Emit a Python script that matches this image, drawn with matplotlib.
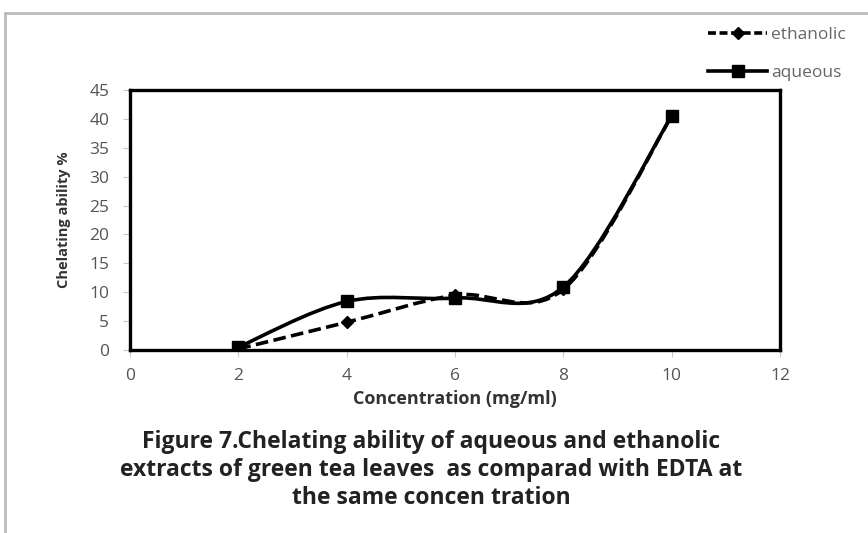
import matplotlib.pyplot as plt
from matplotlib.path import Path
from matplotlib.patches import PathPatch
from matplotlib.lines import Line2D

plt.rcParams['font.family'] = ['Open Sans', 'DejaVu Sans']

# concentration (mg/ml) and chelating ability (%)
conc = [2, 4, 6, 8, 10]
ethanolic = [0.2, 4.8, 9.5, 10.5, 40.5]
aqueous = [0.5, 8.4, 9.0, 10.9, 40.5]

x_ticks = [0, 2, 4, 6, 8, 10, 12]
y_ticks = [0, 5, 10, 15, 20, 25, 30, 35, 40, 45]

caption = ("Figure 7.Chelating ability of aqueous and ethanolic\n"
           "extracts of green tea leaves  as comparad with EDTA at\n"
           "the same concen tration")


def smooth_path(xs, ys):
    # excel style smoothed line: bezier segments with catmull-rom control points
    pts = list(zip(xs, ys))
    n = len(pts)
    verts = [pts[0]]
    codes = [Path.MOVETO]
    for i in range(n - 1):
        p0 = pts[i - 1] if i > 0 else pts[i]
        p1 = pts[i]
        p2 = pts[i + 1]
        p3 = pts[i + 2] if i + 2 < n else pts[i + 1]
        c1 = (p1[0] + (p2[0] - p0[0]) / 6, p1[1] + (p2[1] - p0[1]) / 6)
        c2 = (p2[0] - (p3[0] - p1[0]) / 6, p2[1] - (p3[1] - p1[1]) / 6)
        verts += [c1, c2, p2]
        codes += [Path.CURVE4] * 3
    return Path(verts, codes)


fig = plt.figure(figsize=(8.68, 5.33), dpi=100)
ax = fig.add_axes([0.1498, 0.3433, 0.7488, 0.4878])

# smoothed lines
ax.add_patch(PathPatch(smooth_path(conc, ethanolic), fill=False, ec='black',
                       lw=2.6, ls=(0, (3.5, 1.5))))
ax.add_patch(PathPatch(smooth_path(conc, aqueous), fill=False, ec='black', lw=2.6))
ax.plot(conc, ethanolic, ls='none', marker='D', ms=6.5, color='black')
ax.plot(conc, aqueous, ls='none', marker='s', ms=8.5, color='black')

ax.set_xlim(0, 12)
ax.set_ylim(0, 45)
ax.set_xticks(x_ticks)
ax.set_yticks(y_ticks)
ax.tick_params(labelsize=12.5, labelcolor='#555555', color='#c8c8c8',
               direction='out', length=5)
ax.tick_params(axis='x', pad=8)
ax.tick_params(axis='y', pad=10)
for s in ax.spines.values():
    s.set_linewidth(2.4)
    s.set_color('black')

ax.set_xlabel('Concentration (mg/ml)', fontsize=13, fontweight='bold',
              labelpad=4, color='#333333')
ax.set_ylabel('Chelating ability %', fontsize=10.5, fontweight='bold',
              labelpad=13, color='#333333')

# legend up in the corner
handles = [
    Line2D([], [], color='black', lw=2.6, ls=(0, (2.2, 1.0)), marker='D', ms=6.5),
    Line2D([], [], color='black', lw=2.6, marker='s', ms=8.5),
]
leg = fig.legend(handles, ['ethanolic', 'aqueous'], loc='upper left',
                 bbox_to_anchor=(0.808, 0.962), frameon=False, fontsize=12.5,
                 handlelength=3.4, labelspacing=1.25, handletextpad=0.2,
                 borderaxespad=0)
for t in leg.get_texts():
    t.set_color('#666666')

fig.text(0.497, 0.118, caption, ha='center', va='center', fontsize=16.5,
         fontweight='bold', linespacing=1.22, color='#222222')

# grey frame of the scanned figure
fig.add_artist(Line2D([0.006, 0.006], [0, 0.976], color='#bbbbbb', lw=2,
                      transform=fig.transFigure))
fig.add_artist(Line2D([0.006, 1], [0.976, 0.976], color='#bbbbbb', lw=2,
                      transform=fig.transFigure))

fig.savefig('out.png', dpi=100)
